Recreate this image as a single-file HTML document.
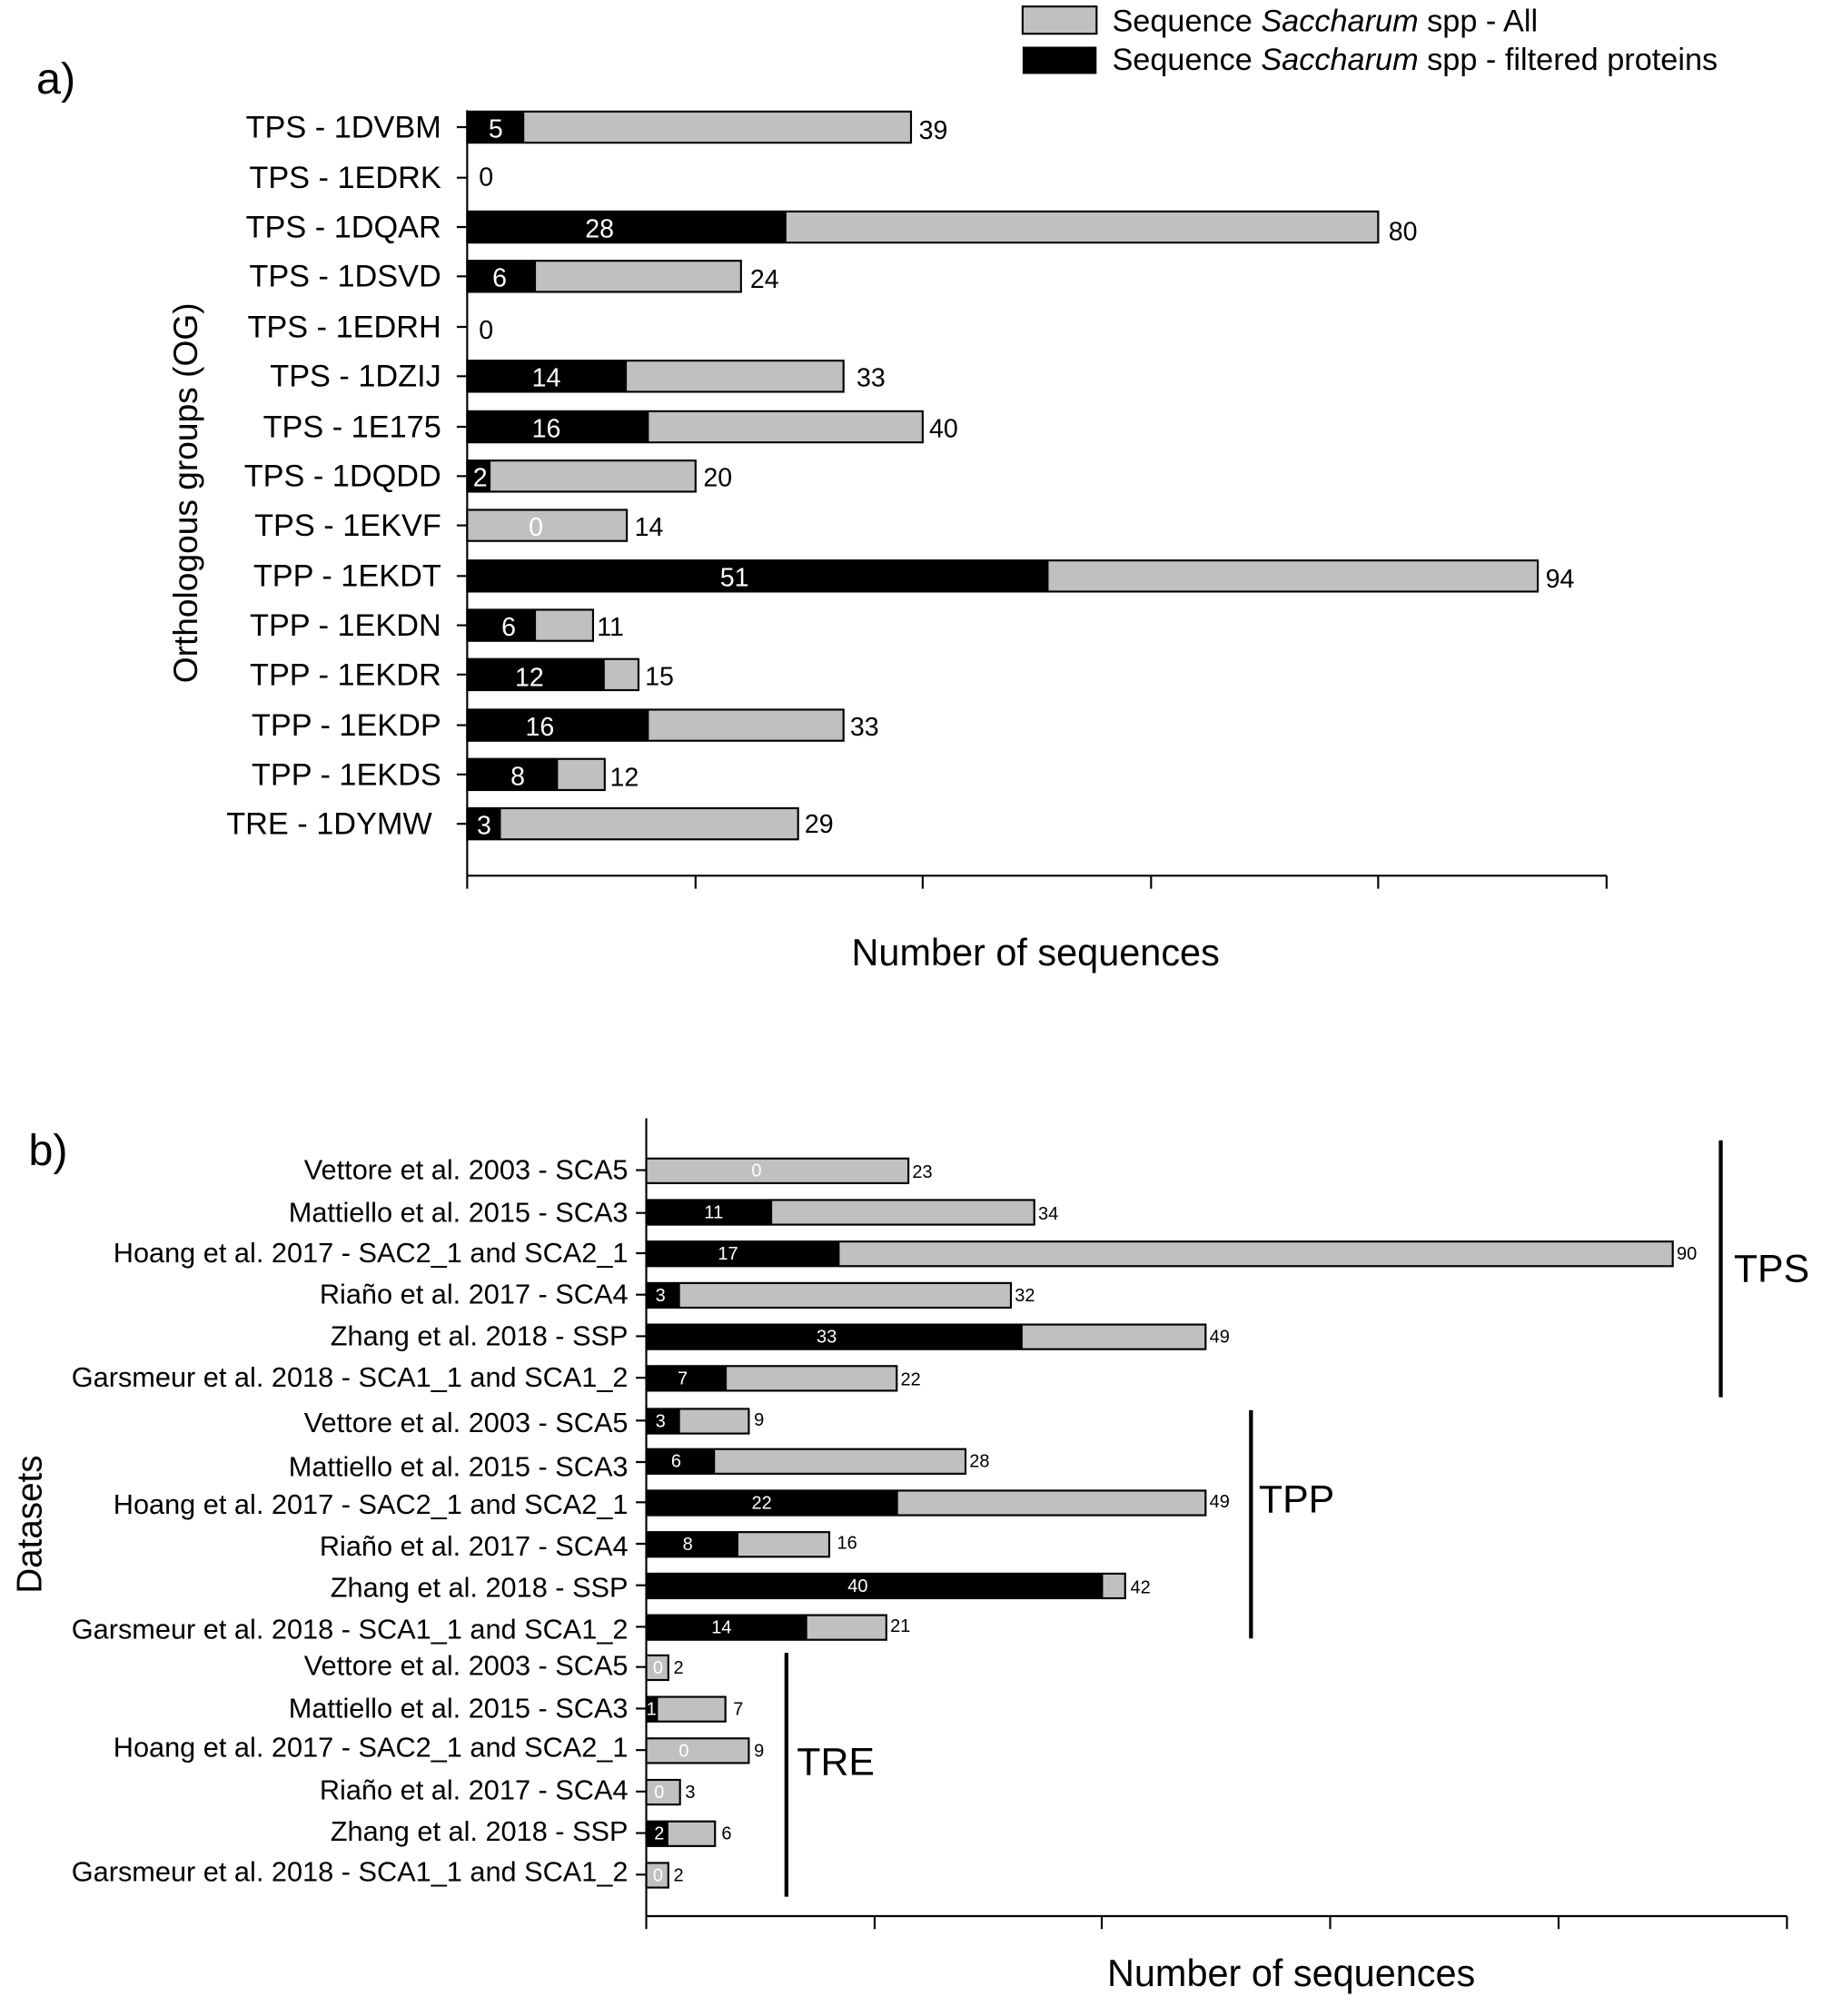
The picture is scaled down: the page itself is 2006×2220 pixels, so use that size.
<!DOCTYPE html>
<html><head><meta charset="utf-8"><style>
html,body{margin:0;padding:0;background:#fff}
svg{display:block}
text{font-family:"Liberation Sans",Arial,sans-serif;fill:#000}
.l{font-size:24px;text-anchor:end}
.lb{font-size:21.5px;text-anchor:end}
.v{font-size:20px}
.vb{font-size:14px}
.w{fill:#fff;text-anchor:middle}
.g{fill:#c0c0c0;stroke:#000;stroke-width:1.5}
.k{fill:#000}
.ax{stroke:#000;stroke-width:1.5;fill:none}
</style></head><body>
<svg width="2006" height="2220" viewBox="0 0 1404 1554" preserveAspectRatio="none" xmlns="http://www.w3.org/2000/svg">
<rect x="788" y="5" width="57" height="21" class="g"/>
<rect x="788" y="36" width="57" height="21" class="k"/>
<text x="857" y="24" font-size="24">Sequence <tspan font-style="italic">Saccharum</tspan> spp - All</text>
<text x="857" y="54" font-size="24">Sequence <tspan font-style="italic">Saccharum</tspan> spp - filtered proteins</text>
<text x="28" y="72" font-size="34">a)</text>
<text transform="translate(152,380) rotate(-90)" font-size="26" text-anchor="middle">Orthologous groups (OG)</text>
<text x="798" y="744" font-size="29" text-anchor="middle">Number of sequences</text>
<path class="ax" d="M360 85V675H1238 M360 675v10 M536 675v10 M711 675v10 M887 675v10 M1062 675v10 M1238 675v10"/>
<path class="ax" d="M352 98h8M352 137h8M352 175h8M352 213h8M352 252h8M352 290h8M352 329h8M352 367h8M352 405h8M352 444h8M352 482h8M352 520h8M352 559h8M352 597h8M352 635h8"/>
<g>
<text class="l" x="340" y="106">TPS - 1DVBM</text>
<text class="l" x="340" y="145">TPS - 1EDRK</text>
<text class="l" x="340" y="183">TPS - 1DQAR</text>
<text class="l" x="340" y="221">TPS - 1DSVD</text>
<text class="l" x="340" y="260">TPS  - 1EDRH</text>
<text class="l" x="340" y="298">TPS - 1DZIJ</text>
<text class="l" x="340" y="337">TPS - 1E175</text>
<text class="l" x="340" y="375">TPS - 1DQDD</text>
<text class="l" x="340" y="413">TPS - 1EKVF</text>
<text class="l" x="340" y="452">TPP - 1EKDT</text>
<text class="l" x="340" y="490">TPP - 1EKDN</text>
<text class="l" x="340" y="528">TPP - 1EKDR</text>
<text class="l" x="340" y="567">TPP - 1EKDP</text>
<text class="l" x="340" y="605">TPP - 1EKDS</text>
<text class="l" x="333" y="643">TRE - 1DYMW</text>
</g>
<g>
<rect class="g" x="360" y="86" width="342" height="24"/><rect class="k" x="360" y="86" width="44" height="24"/><text class="v w" x="382" y="106">5</text><text class="v" x="708" y="107">39</text>
<text class="v" x="369" y="143">0</text>
<rect class="g" x="360" y="163" width="702" height="24"/><rect class="k" x="360" y="163" width="246" height="24"/><text class="v w" x="462" y="183">28</text><text class="v" x="1070" y="185">80</text>
<rect class="g" x="360" y="201" width="211" height="24"/><rect class="k" x="360" y="201" width="53" height="24"/><text class="v w" x="385" y="221">6</text><text class="v" x="578" y="222">24</text>
<text class="v" x="369" y="261">0</text>
<rect class="g" x="360" y="278" width="290" height="24"/><rect class="k" x="360" y="278" width="123" height="24"/><text class="v w" x="421" y="298">14</text><text class="v" x="660" y="298">33</text>
<rect class="g" x="360" y="317" width="351" height="24"/><rect class="k" x="360" y="317" width="140" height="24"/><text class="v w" x="421" y="337">16</text><text class="v" x="716" y="337">40</text>
<rect class="g" x="360" y="355" width="176" height="24"/><rect class="k" x="360" y="355" width="18" height="24"/><text class="v w" x="370" y="375">2</text><text class="v" x="542" y="375">20</text>
<rect class="g" x="360" y="393" width="123" height="24"/><text class="v w" x="413" y="413">0</text><text class="v" x="489" y="413">14</text>
<rect class="g" x="360" y="432" width="825" height="24"/><rect class="k" x="360" y="432" width="448" height="24"/><text class="v w" x="566" y="452">51</text><text class="v" x="1191" y="453">94</text>
<rect class="g" x="360" y="470" width="97" height="24"/><rect class="k" x="360" y="470" width="53" height="24"/><text class="v w" x="392" y="490">6</text><text class="v" x="460" y="490">11</text>
<rect class="g" x="360" y="508" width="132" height="24"/><rect class="k" x="360" y="508" width="106" height="24"/><text class="v w" x="408" y="529">12</text><text class="v" x="497" y="528">15</text>
<rect class="g" x="360" y="547" width="290" height="24"/><rect class="k" x="360" y="547" width="140" height="24"/><text class="v w" x="416" y="567">16</text><text class="v" x="655" y="567">33</text>
<rect class="g" x="360" y="585" width="106" height="24"/><rect class="k" x="360" y="585" width="70" height="24"/><text class="v w" x="399" y="605">8</text><text class="v" x="470" y="606">12</text>
<rect class="g" x="360" y="623" width="255" height="24"/><rect class="k" x="360" y="623" width="26" height="24"/><text class="v w" x="373" y="643">3</text><text class="v" x="620" y="642">29</text>
</g>
<text x="22" y="898" font-size="34">b)</text>
<text transform="translate(32,1175) rotate(-90)" font-size="27" text-anchor="middle">Datasets</text>
<text x="995" y="1531" font-size="29" text-anchor="middle">Number of sequences</text>
<path class="ax" d="M498 862V1477H1377 M498 1477v10 M674 1477v10 M849 1477v10 M1025 1477v10 M1201 1477v10 M1377 1477v10"/>
<path class="ax" d="M490 902h8M490 935h8M490 966h8M490 998h8M490 1030h8M490 1062h8M490 1095h8M490 1127h8M490 1158h8M490 1190h8M490 1222h8M490 1254h8M490 1285h8M490 1317h8M490 1349h8M490 1381h8M490 1413h8M490 1445h8"/>
<path d="M1326 879V1077M964 1087V1263M606 1274V1462" stroke="#000" stroke-width="3"/>
<text x="1336" y="988" font-size="30">TPS</text>
<text x="970" y="1166" font-size="30">TPP</text>
<text x="614" y="1368" font-size="30">TRE</text>
<g>
<text class="lb" x="484" y="909">Vettore et al. 2003 - SCA5</text>
<text class="lb" x="484" y="942">Mattiello et al. 2015 - SCA3</text>
<text class="lb" x="484" y="973">Hoang et al. 2017 - SAC2_1 and SCA2_1</text>
<text class="lb" x="484" y="1005">Riaño et al. 2017 - SCA4</text>
<text class="lb" x="484" y="1037">Zhang et al. 2018 - SSP</text>
<text class="lb" x="484" y="1069">Garsmeur et al. 2018 - SCA1_1 and SCA1_2</text>
<text class="lb" x="484" y="1104">Vettore et al. 2003 - SCA5</text>
<text class="lb" x="484" y="1138">Mattiello et al. 2015 - SCA3</text>
<text class="lb" x="484" y="1167">Hoang et al. 2017 - SAC2_1 and SCA2_1</text>
<text class="lb" x="484" y="1199">Riaño et al. 2017 - SCA4</text>
<text class="lb" x="484" y="1231">Zhang et al. 2018 - SSP</text>
<text class="lb" x="484" y="1263">Garsmeur et al. 2018 - SCA1_1 and SCA1_2</text>
<text class="lb" x="484" y="1291">Vettore et al. 2003 - SCA5</text>
<text class="lb" x="484" y="1324">Mattiello et al. 2015 - SCA3</text>
<text class="lb" x="484" y="1354">Hoang et al. 2017 - SAC2_1 and SCA2_1</text>
<text class="lb" x="484" y="1387">Riaño et al. 2017 - SCA4</text>
<text class="lb" x="484" y="1419">Zhang et al. 2018 - SSP</text>
<text class="lb" x="484" y="1450">Garsmeur et al. 2018 - SCA1_1 and SCA1_2</text>
</g>
<g>
<rect class="g" x="498" y="893" width="202" height="19"/><text class="vb w" x="583" y="907">0</text><text class="vb" x="703" y="908">23</text>
<rect class="g" x="498" y="925" width="299" height="19"/><rect class="k" x="498" y="925" width="97" height="19"/><text class="vb w" x="550" y="939">11</text><text class="vb" x="800" y="940">34</text>
<rect class="g" x="498" y="957" width="791" height="19"/><rect class="k" x="498" y="957" width="149" height="19"/><text class="vb w" x="561" y="971">17</text><text class="vb" x="1292" y="971">90</text>
<rect class="g" x="498" y="989" width="281" height="19"/><rect class="k" x="498" y="989" width="26" height="19"/><text class="vb w" x="509" y="1003">3</text><text class="vb" x="782" y="1003">32</text>
<rect class="g" x="498" y="1021" width="431" height="19"/><rect class="k" x="498" y="1021" width="290" height="19"/><text class="vb w" x="637" y="1035">33</text><text class="vb" x="932" y="1035">49</text>
<rect class="g" x="498" y="1053" width="193" height="19"/><rect class="k" x="498" y="1053" width="62" height="19"/><text class="vb w" x="526" y="1067">7</text><text class="vb" x="694" y="1068">22</text>
<rect class="g" x="498" y="1086" width="79" height="19"/><rect class="k" x="498" y="1086" width="26" height="19"/><text class="vb w" x="509" y="1100">3</text><text class="vb" x="581" y="1099">9</text>
<rect class="g" x="498" y="1117" width="246" height="19"/><rect class="k" x="498" y="1117" width="53" height="19"/><text class="vb w" x="521" y="1131">6</text><text class="vb" x="747" y="1131">28</text>
<rect class="g" x="498" y="1149" width="431" height="19"/><rect class="k" x="498" y="1149" width="194" height="19"/><text class="vb w" x="587" y="1163">22</text><text class="vb" x="932" y="1162">49</text>
<rect class="g" x="498" y="1181" width="141" height="19"/><rect class="k" x="498" y="1181" width="71" height="19"/><text class="vb w" x="530" y="1195">8</text><text class="vb" x="645" y="1194">16</text>
<rect class="g" x="498" y="1213" width="369" height="19"/><rect class="k" x="498" y="1213" width="352" height="19"/><text class="vb w" x="661" y="1227">40</text><text class="vb" x="871" y="1228">42</text>
<rect class="g" x="498" y="1245" width="185" height="19"/><rect class="k" x="498" y="1245" width="124" height="19"/><text class="vb w" x="556" y="1259">14</text><text class="vb" x="686" y="1258">21</text>
<rect class="g" x="498" y="1276" width="17" height="19"/><text class="vb w" x="507" y="1290">0</text><text class="vb" x="519" y="1290">2</text>
<rect class="g" x="498" y="1308" width="61" height="19"/><rect class="k" x="498" y="1308" width="9" height="19"/><text class="vb w" x="502" y="1322">1</text><text class="vb" x="565" y="1322">7</text>
<rect class="g" x="498" y="1340" width="79" height="19"/><text class="vb w" x="527" y="1354">0</text><text class="vb" x="581" y="1354">9</text>
<rect class="g" x="498" y="1372" width="26" height="19"/><text class="vb w" x="508" y="1386">0</text><text class="vb" x="528" y="1386">3</text>
<rect class="g" x="498" y="1404" width="53" height="19"/><rect class="k" x="498" y="1404" width="17" height="19"/><text class="vb w" x="508" y="1418">2</text><text class="vb" x="556" y="1418">6</text>
<rect class="g" x="498" y="1436" width="17" height="19"/><text class="vb w" x="507" y="1450">0</text><text class="vb" x="519" y="1450">2</text>
</g>
</svg>
</body></html>
